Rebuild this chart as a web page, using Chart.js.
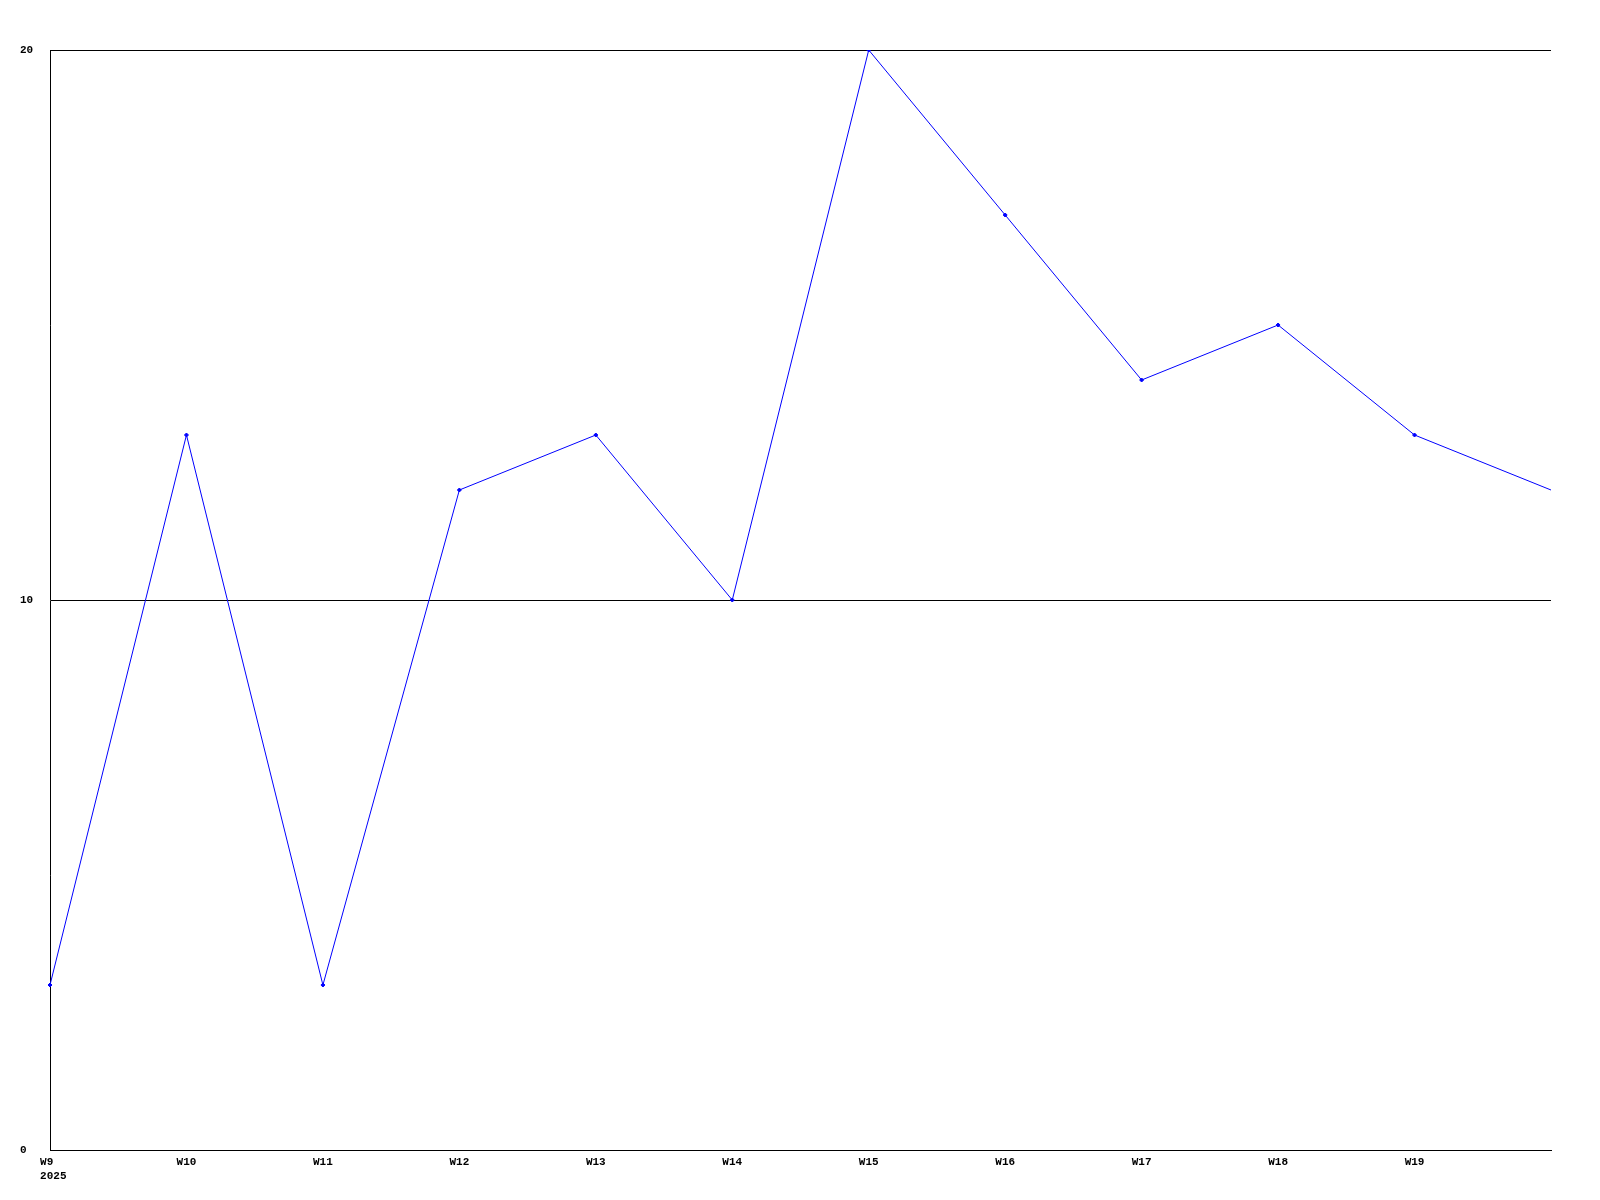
<!DOCTYPE html>
<html>
<head>
<meta charset="utf-8">
<script src="https://cdn.jsdelivr.net/npm/chart.js@4/dist/chart.umd.min.js"></script>
<style>
  html, body { margin: 0; padding: 0; background: #fff; }
  canvas { display: block; }
</style>
</head>
<body>
<canvas id="myChart" width="1600" height="1200"></canvas>
<script>
// weeks (last point runs to the right edge, no label or marker shown)
const weeks = [[' W9  ', ' 2025'], 'W10', 'W11', 'W12', 'W13', 'W14', 'W15', 'W16', 'W17', 'W18', 'W19', ''];
const values = [3, 13, 3, 12, 13, 10, 20, 17, 14, 15, 13, 12];
const yTicks = [0, 10, 20];

const font = { family: '"Liberation Mono", "DejaVu Sans Mono", monospace', size: 11, weight: 'bold' };

const ctx = document.getElementById('myChart');

new Chart(ctx, {
    type: 'line',
    data: {
        labels: weeks,
        datasets: [{
            data: values,
            borderColor: '#0000ff',
            backgroundColor: '#0000ff',
            borderWidth: 1,
            pointStyle: 'rectRot',
            pointRadius: c => c.dataIndex === values.length - 1 ? 0 : 2,
            pointBorderWidth: 1,
            tension: 0,
            fill: false
        }]
    },
    options: {
        responsive: false,
        animation: false,
        layout: { padding: { top: 50, left: 20, right: 49, bottom: 0 } },
        plugins: { legend: { display: false }, tooltip: { enabled: false } },
        scales: {
            x: {
                offset: false,
                grid: { display: false, drawTicks: false },
                border: { color: '#000', width: 1 },
                ticks: {
                    color: '#000', font: font, padding: 6,
                    maxRotation: 0, autoSkip: false
                },
                afterFit: s => { s.height = 50; }
            },
            y: {
                min: 0, max: 20,
                afterBuildTicks: s => { s.ticks = yTicks.map(v => ({ value: v })); },
                grid: { color: '#000', lineWidth: 1, drawTicks: false },
                border: { color: '#000', width: 1 },
                ticks: { color: '#000', font: font, crossAlign: 'far', padding: 0 },
                afterFit: s => { s.width = 30; }
            }
        }
    }
});
</script>
</body>
</html>
